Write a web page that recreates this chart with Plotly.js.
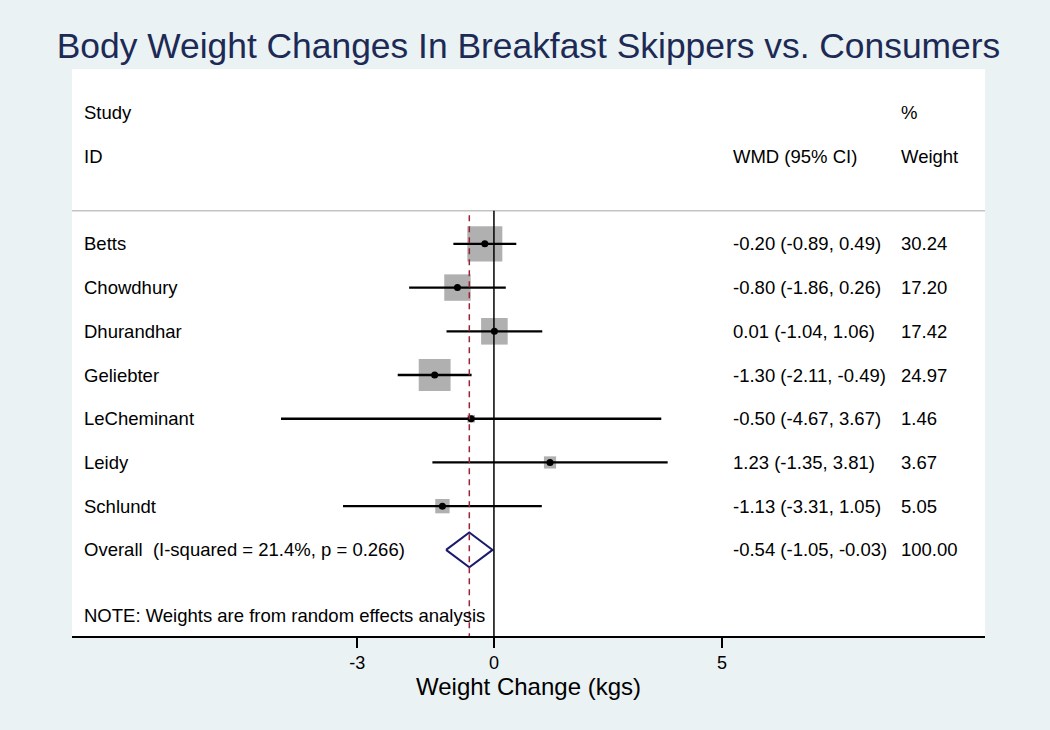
<!DOCTYPE html>
<html>
<head>
<meta charset="utf-8">
<script src="https://cdn.plot.ly/plotly-3.0.1.min.js"></script>
<style>html,body{margin:0;padding:0;background:#eaf2f3;}</style>
</head>
<body>
<div id="chart" style="width:1050px;height:730px;"></div>
<script>
// ---- data ----
const studies = ["Betts", "Chowdhury", "Dhurandhar", "Geliebter", "LeCheminant", "Leidy", "Schlundt"];
const estimates = [-0.20, -0.80, 0.01, -1.30, -0.50, 1.23, -1.13];
const ciLow = [-0.89, -1.86, -1.04, -2.11, -4.67, -1.35, -3.31];
const ciHigh = [0.49, 0.26, 1.06, -0.49, 3.67, 3.81, 1.05];
const weights = [30.24, 17.20, 17.42, 24.97, 1.46, 3.67, 5.05];
const overallLabel = "Overall  (I-squared = 21.4%, p = 0.266)";
const overallEst = -0.54, overallLow = -1.05, overallHigh = -0.03, overallWeight = 100.00;
const noteText = "NOTE: Weights are from random effects analysis";
const tickVals = [-3, 0, 5];
const tickText = ["-3", "0", "5"];

// ---- layout helpers ----
const rows = studies.map((s, i) => i);
const overallRow = studies.length;
const noteRow = studies.length + 1.49;
const headerRow1 = -3, headerRow2 = -2, sepRow = -0.755;
const fam = '"Liberation Sans", Arial, Helvetica, sans-serif';
const txtSize = 18.5;
const colName = 0.011, colWMD = 0.722, colW = 0.906;
const fmt = v => v.toFixed(2);

const boxes = {
  type: 'scatter', mode: 'markers', x: estimates, y: rows,
  marker: {symbol: 'square', color: '#b0b0b0', opacity: 1, size: weights.map(w => 6.37 * Math.sqrt(w)), line: {width: 0}},
  hoverinfo: 'skip', showlegend: false
};
const cis = {
  type: 'scatter', mode: 'markers', x: estimates, y: rows,
  marker: {color: '#000', size: 7, opacity: 1},
  error_x: {type: 'data', symmetric: false,
    array: estimates.map((e, i) => ciHigh[i] - e),
    arrayminus: estimates.map((e, i) => e - ciLow[i]),
    color: '#000', thickness: 2.3, width: 0},
  showlegend: false
};
const dh = 0.4;
const diamond = {
  type: 'scatter', mode: 'lines',
  x: [overallLow, overallEst, overallHigh, overallEst, overallLow],
  y: [overallRow, overallRow - dh, overallRow, overallRow + dh, overallRow],
  line: {color: '#1a1a6e', width: 2}, showlegend: false
};

const ann = [];
function addText(x, y, t) {
  ann.push({xref: 'paper', yref: 'y', x: x, y: y, text: t, showarrow: false,
    xanchor: 'left', yanchor: 'middle', font: {family: fam, size: txtSize, color: '#000'}});
}
addText(colName, headerRow1, "Study");
addText(colName, headerRow2, "ID");
addText(colWMD, headerRow2, "WMD (95% CI)");
addText(colW, headerRow1, "%");
addText(colW, headerRow2, "Weight");
studies.forEach((s, i) => {
  addText(colName, i, s);
  addText(colWMD, i, fmt(estimates[i]) + " (" + fmt(ciLow[i]) + ", " + fmt(ciHigh[i]) + ")");
  addText(colW, i, fmt(weights[i]));
});
addText(colName, overallRow, overallLabel);
addText(colWMD, overallRow, fmt(overallEst) + " (" + fmt(overallLow) + ", " + fmt(overallHigh) + ")");
addText(colW, overallRow, fmt(overallWeight));
addText(colName, noteRow, noteText);

const layout = {
  width: 1050, height: 730,
  paper_bgcolor: '#eaf2f3', plot_bgcolor: '#ffffff',
  margin: {l: 72, r: 65, t: 69, b: 94},
  title: {text: "Body Weight Changes In Breakfast Skippers vs. Consumers",
    font: {family: fam, size: 35.4, color: '#1c2a55'},
    xref: 'paper', x: 0.5, xanchor: 'center', yref: 'container', y: 0.938, yanchor: 'middle'},
  xaxis: {range: [-9.254, 10.77], tickvals: tickVals, ticktext: tickText,
    ticks: 'outside', ticklen: 10, tickwidth: 1.5, tickcolor: '#000',
    showline: true, linecolor: '#000', linewidth: 1.5, showgrid: false, zeroline: false,
    tickfont: {family: fam, size: 18, color: '#000'},
    title: {text: "Weight Change (kgs)", font: {family: fam, size: 24, color: '#000'}, standoff: 4}},
  yaxis: {range: [8.97, -4.0], visible: false, showgrid: false, zeroline: false},
  shapes: [
    {type: 'line', xref: 'paper', yref: 'y', x0: 0, x1: 1, y0: sepRow, y1: sepRow, line: {color: '#c4c4c4', width: 1.5}},
    {type: 'line', xref: 'x', yref: 'y', x0: 0, x1: 0, y0: sepRow, y1: 8.97, line: {color: '#000', width: 1.5}},
    {type: 'line', xref: 'x', yref: 'y', x0: overallEst, x1: overallEst, y0: sepRow + 0.1, y1: 8.97, line: {color: '#9b2335', width: 1.5, dash: '6px,5px'}}
  ],
  annotations: ann
};

Plotly.newPlot('chart', [boxes, cis, diamond], layout, {displayModeBar: false, staticPlot: true});
</script>
</body>
</html>
